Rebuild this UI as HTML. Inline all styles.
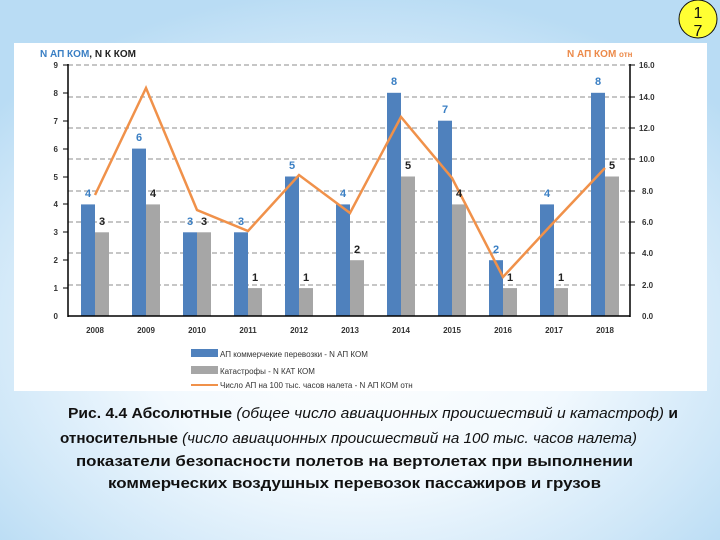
<!DOCTYPE html>
<html><head><meta charset="utf-8"><style>
html,body{margin:0;padding:0;width:720px;height:540px;overflow:hidden;}
body{background:radial-gradient(ellipse 480px 340px at 360px 330px,#ffffff 0%,#f2f9fe 45%,#cfe7f8 80%,#b9dcf4 100%);}
svg{position:absolute;left:0;top:0;}
text{font-family:"Liberation Sans","DejaVu Sans",sans-serif;}
</style></head><body>
<svg width="720" height="540" viewBox="0 0 720 540">
<rect x="14" y="43" width="693" height="348" fill="#fff"/>
<g stroke="#8c8c8c" stroke-width="1" stroke-dasharray="5,3">
<line x1="68" y1="65" x2="630" y2="65"/><line x1="68" y1="97" x2="630" y2="97"/>
<line x1="68" y1="128" x2="630" y2="128"/><line x1="68" y1="159" x2="630" y2="159"/>
<line x1="68" y1="191" x2="630" y2="191"/><line x1="68" y1="222" x2="630" y2="222"/>
<line x1="68" y1="253" x2="630" y2="253"/><line x1="68" y1="285" x2="630" y2="285"/>
</g>
<g fill="#4f81bd">
<rect x="81" y="204.4" width="14" height="111.6"/><rect x="132" y="148.6" width="14" height="167.4"/>
<rect x="183" y="232.3" width="14" height="83.7"/><rect x="234" y="232.3" width="14" height="83.7"/>
<rect x="285" y="176.5" width="14" height="139.5"/><rect x="336" y="204.4" width="14" height="111.6"/>
<rect x="387" y="92.8" width="14" height="223.2"/><rect x="438" y="120.7" width="14" height="195.3"/>
<rect x="489" y="260.2" width="14" height="55.8"/><rect x="540" y="204.4" width="14" height="111.6"/>
<rect x="591" y="92.8" width="14" height="223.2"/>
</g>
<g fill="#a6a6a6">
<rect x="95" y="232.3" width="14" height="83.7"/><rect x="146" y="204.4" width="14" height="111.6"/>
<rect x="197" y="232.3" width="14" height="83.7"/><rect x="248" y="288.1" width="14" height="27.9"/>
<rect x="299" y="288.1" width="14" height="27.9"/><rect x="350" y="260.2" width="14" height="55.8"/>
<rect x="401" y="176.5" width="14" height="139.5"/><rect x="452" y="204.4" width="14" height="111.6"/>
<rect x="503" y="288.1" width="14" height="27.9"/><rect x="554" y="288.1" width="14" height="27.9"/>
<rect x="605" y="176.5" width="14" height="139.5"/>
</g>
<polyline fill="none" stroke="#f0914a" stroke-width="2.5" points="95,195 146,88 197,210 248,231 299,175 350,213 401,117 452,178 503,277 554,222 605,168"/>
<g stroke="#000" stroke-width="1.5">
<line x1="68" y1="64" x2="68" y2="317"/><line x1="630" y1="64" x2="630" y2="317"/>
<line x1="68" y1="316" x2="630" y2="316"/>
</g>
<g stroke="#000" stroke-width="1">
<line x1="63" y1="65" x2="68" y2="65"/><line x1="63" y1="93" x2="68" y2="93"/><line x1="63" y1="121" x2="68" y2="121"/><line x1="63" y1="149" x2="68" y2="149"/><line x1="63" y1="177" x2="68" y2="177"/><line x1="63" y1="204" x2="68" y2="204"/><line x1="63" y1="232" x2="68" y2="232"/><line x1="63" y1="260" x2="68" y2="260"/><line x1="63" y1="288" x2="68" y2="288"/>
<line x1="630" y1="65" x2="635" y2="65"/><line x1="630" y1="97" x2="635" y2="97"/><line x1="630" y1="128" x2="635" y2="128"/><line x1="630" y1="159" x2="635" y2="159"/><line x1="630" y1="191" x2="635" y2="191"/><line x1="630" y1="222" x2="635" y2="222"/><line x1="630" y1="253" x2="635" y2="253"/><line x1="630" y1="285" x2="635" y2="285"/>
</g>
<g font-size="8" font-weight="bold" fill="#333" text-anchor="end">
<text x="58" y="68">9</text><text x="58" y="96">8</text><text x="58" y="124">7</text><text x="58" y="152">6</text><text x="58" y="180">5</text><text x="58" y="207">4</text><text x="58" y="235">3</text><text x="58" y="263">2</text><text x="58" y="291">1</text><text x="58" y="319">0</text>
</g>
<g font-size="8" font-weight="bold" fill="#333">
<text x="639" y="68">16.0</text><text x="639" y="100">14.0</text><text x="639" y="131">12.0</text><text x="639" y="162">10.0</text><text x="642" y="194">8.0</text><text x="642" y="225">6.0</text><text x="642" y="256">4.0</text><text x="642" y="288">2.0</text><text x="642" y="319">0.0</text>
</g>
<g font-size="8" font-weight="bold" fill="#333" text-anchor="middle">
<text x="95" y="333">2008</text><text x="146" y="333">2009</text><text x="197" y="333">2010</text><text x="248" y="333">2011</text><text x="299" y="333">2012</text><text x="350" y="333">2013</text><text x="401" y="333">2014</text><text x="452" y="333">2015</text><text x="503" y="333">2016</text><text x="554" y="333">2017</text><text x="605" y="333">2018</text>
</g>
<g font-size="11" font-weight="bold" fill="#3a7fc4" text-anchor="middle">
<text x="88" y="197">4</text><text x="139" y="141">6</text><text x="190" y="225">3</text><text x="241" y="225">3</text><text x="292" y="169">5</text><text x="343" y="197">4</text><text x="394" y="85">8</text><text x="445" y="113">7</text><text x="496" y="253">2</text><text x="547" y="197">4</text><text x="598" y="85">8</text>
</g>
<g font-size="11" font-weight="bold" fill="#222" text-anchor="middle">
<text x="102" y="225">3</text><text x="153" y="197">4</text><text x="204" y="225">3</text><text x="255" y="281">1</text><text x="306" y="281">1</text><text x="357" y="253">2</text><text x="408" y="169">5</text><text x="459" y="197">4</text><text x="510" y="281">1</text><text x="561" y="281">1</text><text x="612" y="169">5</text>
</g>
<text x="40" y="57" font-size="10" font-weight="bold"><tspan fill="#3a7fc4">N АП КОМ</tspan><tspan fill="#222">, N К КОМ</tspan></text>
<text x="567" y="57" font-size="10" font-weight="bold" fill="#ec8a4a">N АП КОМ <tspan font-size="8">отн</tspan></text>
<rect x="191" y="349" width="27" height="8" fill="#4f81bd"/>
<rect x="191" y="366" width="27" height="8" fill="#a6a6a6"/>
<line x1="191" y1="385" x2="218" y2="385" stroke="#f0914a" stroke-width="2"/>
<g font-size="8" fill="#333">
<text x="220" y="357">АП коммерчекие перевозки - N АП КОМ</text>
<text x="220" y="374">Катастрофы - N КАТ КОМ</text>
<text x="220" y="388">Число АП на 100 тыс. часов налета - N АП КОМ отн</text>
</g>
<g font-size="15" fill="#111">
<text x="68" y="418" textLength="610" lengthAdjust="spacingAndGlyphs"><tspan font-weight="bold">Рис. 4.4 Абсолютные </tspan><tspan font-style="italic">(общее число авиационных происшествий и катастроф) </tspan><tspan font-weight="bold">и</tspan></text>
<text x="60" y="443" textLength="577" lengthAdjust="spacingAndGlyphs"><tspan font-weight="bold">относительные </tspan><tspan font-style="italic">(число авиационных происшествий на 100 тыс. часов налета)</tspan></text>
<text x="76" y="466" font-weight="bold" textLength="557" lengthAdjust="spacingAndGlyphs">показатели безопасности полетов на вертолетах при выполнении</text>
<text x="108" y="488" font-weight="bold" textLength="493" lengthAdjust="spacingAndGlyphs">коммерческих воздушных перевозок пассажиров и грузов</text>
</g>
<circle cx="698" cy="19" r="19" fill="#ffff33" stroke="#111" stroke-width="1"/>
<text x="698" y="18" font-size="16" text-anchor="middle" fill="#111">1</text>
<text x="698" y="36" font-size="16" text-anchor="middle" fill="#111">7</text>
</svg>
</body></html>
